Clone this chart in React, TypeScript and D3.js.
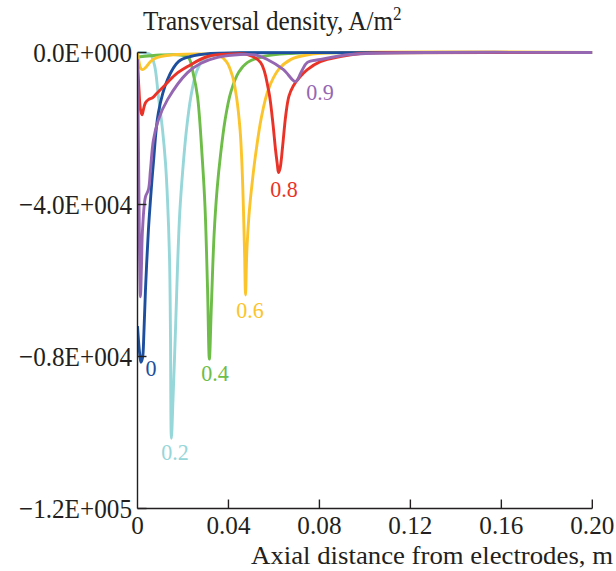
import React from "react";
import * as d3 from "d3";

type Pt = [number, number];

const xTicks = [0, 0.04, 0.08, 0.12, 0.16, 0.2];
const xTickLabels = ["0", "0.04", "0.08", "0.12", "0.16", "0.20"];
const yTicks = [0, -40000, -80000, -120000];
const yTickLabels = ["0.0E+000", "\u22124.0E+004", "\u22120.8E+004", "\u22121.2E+005"];

const series0: Pt[] = [
  [0, -72000], [0.0009, -79000], [0.0015, -81500], [0.0022, -80400], [0.0028, -74000],
  [0.0035, -62500], [0.0048, -46700], [0.0057, -38800], [0.007, -29000], [0.0092, -15800],
  [0.0132, -7100], [0.018, -2400], [0.0233, -1050], [0.0321, -260], [0.0453, -80], [0.0716, -20], [0.2, 0],
];
const series02: Pt[] = [
  [0, -50], [0.0035, -130], [0.0057, -530], [0.0075, -3400], [0.0092, -11600], [0.011, -20300],
  [0.0123, -29000], [0.0132, -38800], [0.0141, -54600], [0.0145, -73900], [0.0149, -101500],
  [0.0156, -91500], [0.0167, -73100], [0.0176, -56400], [0.0186, -42000], [0.0199, -31000],
  [0.0215, -20500], [0.0235, -11500], [0.026, -5000], [0.029, -1850], [0.0352, -530], [0.0453, -80], [0.08, -20], [0.2, 0],
];
const series04: Pt[] = [
  [0, -1200], [0.0101, -660], [0.0189, -660], [0.0224, -1300], [0.0246, -5800], [0.0264, -11600],
  [0.0286, -29000], [0.0297, -40800], [0.0308, -62100], [0.0316, -80700],
  [0.0325, -66400], [0.0337, -47700], [0.035, -36000], [0.0365, -27000],
  [0.0385, -17800], [0.041, -10500], [0.0445, -5200], [0.0484, -2600], [0.0554, -1050], [0.0673, -260], [0.0804, -80], [0.2, 0],
];
const series06: Pt[] = [
  [0, 0], [0.00066, -2400], [0.0013, -4000], [0.0022, -4500], [0.0035, -4000], [0.0057, -2400],
  [0.0088, -1300], [0.0176, -530], [0.0299, -400], [0.0352, -660], [0.0391, -2400], [0.0418, -6300],
  [0.0435, -11600], [0.0451, -20300], [0.0459, -29000], [0.0466, -41400], [0.0471, -53000],
  [0.0475, -63800], [0.0481, -52000], [0.049, -43000], [0.0502, -35500], [0.0519, -27000],
  [0.0545, -17000], [0.0575, -9800], [0.062, -4500], [0.0675, -1800], [0.075, -600], [0.0848, -80], [0.2, 0],
];
const series08: Pt[] = [
  [0, -1850], [0.00066, -9800], [0.0013, -15000], [0.002, -16400], [0.0026, -15000], [0.0035, -13200],
  [0.0048, -12400], [0.0066, -11900], [0.0084, -10800], [0.0114, -9000], [0.0167, -5800],
  [0.022, -3700], [0.0308, -1050], [0.0409, -400], [0.0484, -530], [0.0541, -2600], [0.0576, -9800],
  [0.0593, -17300], [0.0607, -25600], [0.0615, -29500], [0.062, -31600], [0.0627, -30500],
  [0.0638, -24800], [0.0652, -16500], [0.0666, -11500], [0.0685, -8800], [0.0715, -6400], [0.0747, -4500],
  [0.0804, -2400], [0.0892, -1050], [0.098, -260], [0.1112, -80], [0.2, 0],
];
const series09: Pt[] = [
  [0, -1850], [0.00044, -25600], [0.00088, -52000], [0.0013, -64300], [0.00176, -55900],
  [0.0022, -46700], [0.0035, -38000], [0.0048, -36100], [0.0057, -30900], [0.007, -23000],
  [0.0092, -17700], [0.0132, -12400], [0.022, -5300], [0.0277, -2900], [0.0352, -1300],
  [0.0453, -530], [0.0519, -660], [0.0571, -1850], [0.0642, -4500], [0.0695, -7650],
  [0.0721, -5000], [0.0747, -2600], [0.0804, -1850], [0.0936, -530], [0.1156, -80], [0.2, 0],
];

const seriesNames = ["0.2", "0.4", "0.6", "0", "0.8", "0.9"];
const seriesData = [series02, series04, series06, series0, series08, series09];
const seriesColors = ["#97d6d9", "#6dbd48", "#fcc42c", "#1d4f9e", "#ea3328", "#9567b3"];
const labelAnchors: Pt[] = [
  [0.0165, -107300], [0.0341, -86500], [0.0495, -69900], [0.0059, -85100], [0.0644, -38000], [0.0803, -12500],
];

const FONT = "'Liberation Serif', 'DejaVu Serif', serif";

function Txt(props: {
  x: number; y: number; size: number; sx?: number; anchor?: string; fill?: string; dy?: string; children: React.ReactNode;
}) {
  const { x, y, size, sx = 0.9, anchor = "start", fill = "#231f20", dy, children } = props;
  return (
    <g transform={`translate(${x},${y}) scale(${sx},1)`}>
      <text x={0} y={0} dy={dy} textAnchor={anchor} fontSize={size} fill={fill} fontFamily={FONT}>
        {children}
      </text>
    </g>
  );
}

export default function App() {
  const W = 616, H = 571;
  const x = d3.scaleLinear().domain([0, 0.2]).range([137.5, 592.3]);
  const y = d3.scaleLinear().domain([0, -120000]).range([52.5, 508.5]);
  const line = d3
    .line<Pt>()
    .x((d) => x(d[0]))
    .y((d) => y(d[1]))
    .curve(d3.curveCatmullRom.alpha(0.5));
  return (
    <svg
      width={W}
      height={H}
      viewBox={`0 0 ${W} ${H}`}
      style={{ position: "absolute", left: 0, top: 0, background: "#fff" }}
    >
      <rect x={0} y={0} width={W} height={H} fill="#fff" />
      <defs>
        <clipPath id="plotclip">
          <rect x={x(0)} y={y(0) - 3} width={x(0.2) - x(0)} height={y(-120000) - y(0) + 3} />
        </clipPath>
      </defs>
      <g clipPath="url(#plotclip)">
        {seriesData.map((s, i) => (
          <path
            key={seriesNames[i]}
            d={line(s) || ""}
            fill="none"
            stroke={seriesColors[i]}
            strokeWidth={2.9}
            strokeLinejoin="round"
          />
        ))}
      </g>
      <line x1={x(0)} x2={x(0)} y1={y(0)} y2={y(-120000)} stroke="#231f20" strokeWidth={1.4} />
      <line x1={x(0)} x2={x(0.2)} y1={y(-120000)} y2={y(-120000)} stroke="#231f20" strokeWidth={1.4} />
      {yTicks.map((t, i) => (
        <g key={"yt" + i}>
          <line x1={x(0)} x2={x(0) + 9} y1={y(t)} y2={y(t)} stroke="#231f20" strokeWidth={1.4} />
          <Txt x={132} y={y(t)} size={28} anchor="end" dy="0.33em">
            {yTickLabels[i]}
          </Txt>
        </g>
      ))}
      {xTicks.map((t, i) => (
        <g key={"xt" + i}>
          {i > 0 && (
            <line x1={x(t)} x2={x(t)} y1={y(-120000)} y2={y(-120000) - 9} stroke="#231f20" strokeWidth={1.4} />
          )}
          <Txt x={x(t)} y={534} size={26} sx={0.97} anchor="middle">
            {xTickLabels[i]}
          </Txt>
        </g>
      ))}
      <Txt x={143} y={30} size={28}>
        Transversal density, A/m
        <tspan dy={-10} fontSize={19}>2</tspan>
      </Txt>
      <Txt x={613} y={564} size={26} sx={1.03} anchor="end">
        Axial distance from electrodes, m
      </Txt>
      {seriesNames.map((n, i) => (
        <Txt
          key={"lab" + i}
          x={x(labelAnchors[i][0])}
          y={y(labelAnchors[i][1])}
          size={24}
          sx={0.92}
          anchor="middle"
          fill={seriesColors[i]}
        >
          {n}
        </Txt>
      ))}
    </svg>
  );
}
